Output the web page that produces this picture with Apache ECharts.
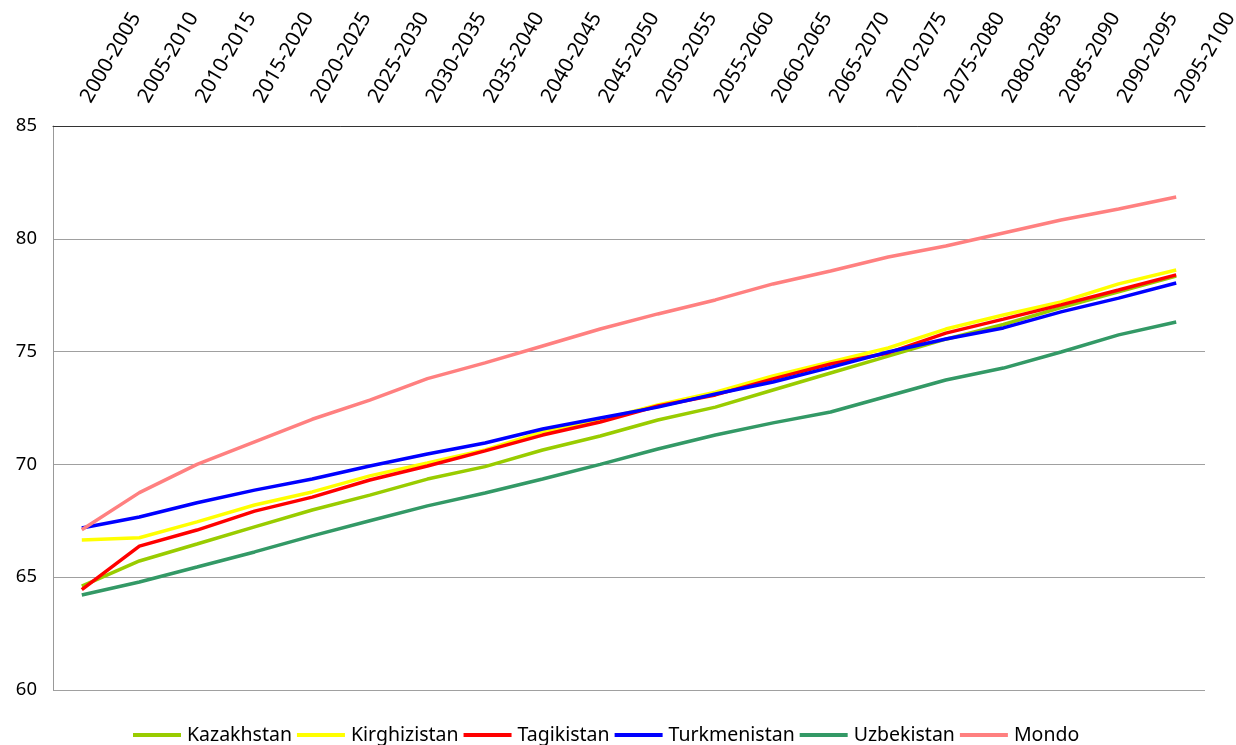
<!DOCTYPE html>
<html>
<head>
<meta charset="utf-8">
<script src="https://cdn.jsdelivr.net/npm/echarts@6/dist/echarts.min.js"></script>
<style>html,body{margin:0;padding:0;background:#fff}#c{width:1236px;height:745px}</style>
</head>
<body>
<div id="c"></div>
<script>
const categories = ['2000-2005','2005-2010','2010-2015','2015-2020','2020-2025','2025-2030','2030-2035','2035-2040','2040-2045','2045-2050','2050-2055','2055-2060','2060-2065','2065-2070','2070-2075','2075-2080','2080-2085','2085-2090','2090-2095','2095-2100'];
const kazakhstan   = [64.6, 65.72, 66.47, 67.23, 67.98, 68.64, 69.35, 69.9, 70.64, 71.26, 71.97, 72.54, 73.3, 74.05, 74.8, 75.55, 76.2, 76.95, 77.65, 78.35];
const kirghizistan = [66.65, 66.75, 67.45, 68.2, 68.78, 69.49, 70.06, 70.64, 71.44, 71.97, 72.63, 73.2, 73.92, 74.54, 75.16, 76.0, 76.62, 77.2, 78.0, 78.62];
const tagikistan   = [64.45, 66.38, 67.09, 67.93, 68.55, 69.31, 69.93, 70.6, 71.3, 71.88, 72.59, 73.08, 73.79, 74.45, 74.94, 75.82, 76.44, 77.07, 77.73, 78.4];
const turkmenistan = [67.18, 67.67, 68.3, 68.86, 69.35, 69.93, 70.46, 70.95, 71.57, 72.06, 72.54, 73.12, 73.65, 74.3, 74.98, 75.56, 76.05, 76.76, 77.37, 78.04];
const uzbekistan   = [64.21, 64.79, 65.45, 66.12, 66.83, 67.5, 68.16, 68.73, 69.35, 70.0, 70.68, 71.3, 71.84, 72.32, 73.03, 73.74, 74.27, 74.98, 75.74, 76.31];
const mondo        = [67.1, 68.75, 70.0, 71.0, 72.0, 72.85, 73.8, 74.5, 75.25, 76.0, 76.67, 77.29, 78.0, 78.57, 79.19, 79.68, 80.26, 80.83, 81.32, 81.85];
const yTicks = [60, 65, 70, 75, 80, 85];

const names = ['Kazakhstan','Kirghizistan','Tagikistan','Turkmenistan','Uzbekistan','Mondo'];
const values = [kazakhstan, kirghizistan, tagikistan, turkmenistan, uzbekistan, mondo];
const colors = ['#99cc00','#ffff00','#ff0000','#0000ff','#339966','#ff8080'];

const chart = echarts.init(document.getElementById('c'), null, {renderer:'canvas'});
const font = 'Noto Sans';
chart.setOption({
  animation: false,
  backgroundColor: '#fff',
  color: colors,
  grid: {left: 53, right: 31, top: 126, bottom: 55, containLabel: false, outerBoundsMode: 'none'},
  legend: {
    bottom: -5, left: 128,
    itemWidth: 48, itemHeight: 4, itemGap: 5, icon: 'rect',
    textStyle: {fontFamily: font, fontSize: 19.5, color: '#000', padding: [0,0,0,1]},
    data: names
  },
  xAxis: {
    type: 'category', position: 'top', data: categories, boundaryGap: true,
    axisLine: {show: true, lineStyle: {color: '#333', width: 1}},
    axisTick: {show: false},
    axisLabel: {rotate: -60, fontFamily: font, fontSize: 20.5, color: '#000', margin: 18,
      padding: [8, 0, 0, 8], interval: 0}
  },
  yAxis: {
    type: 'value', min: 60, max: 85, interval: 5,
    axisLine: {show: true, lineStyle: {color: '#999'}},
    axisTick: {show: false},
    splitLine: {lineStyle: {color: '#a0a0a0', width: 1}},
    axisLabel: {fontFamily: font, fontSize: 18.5, color: '#000', margin: 16,
      formatter: v => yTicks.includes(v) ? String(v) : ''}
  },
  series: names.map((n, i) => ({
    name: n, type: 'line', data: values[i], symbol: 'none', smooth: false,
    lineStyle: {width: 3.5, color: colors[i]}, itemStyle: {color: colors[i]}
  }))
});
</script>
</body>
</html>
